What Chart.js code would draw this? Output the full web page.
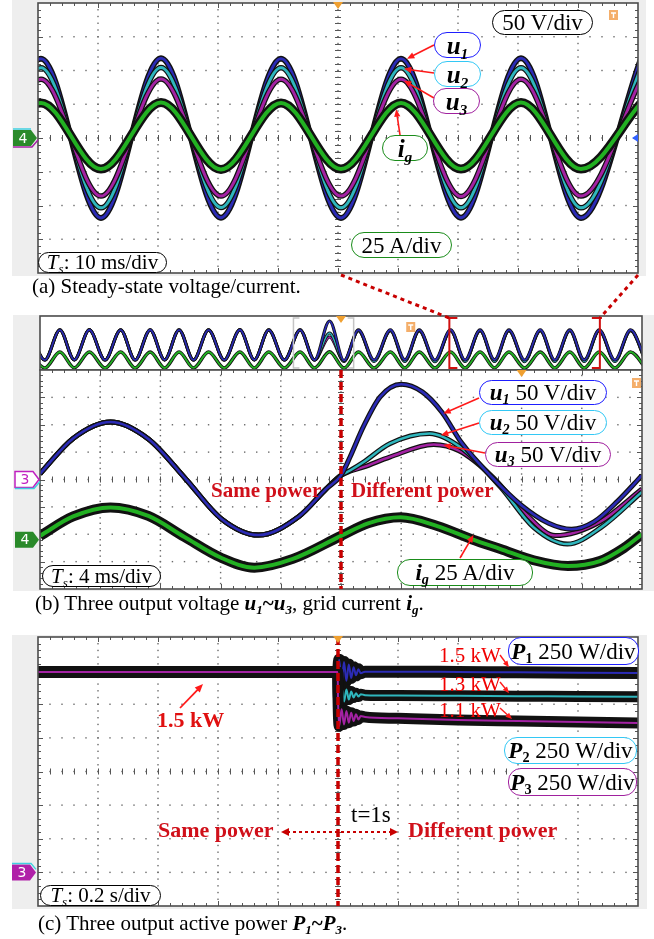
<!DOCTYPE html>
<html>
<head>
<meta charset="utf-8">
<script src="https://cdn.jsdelivr.net/npm/chart.js@4.4.0/dist/chart.umd.min.js"></script>
<style>
body { margin: 0; background: #fff; }
#page { position: relative; width: 654px; height: 939px; overflow: hidden; font-family: "Liberation Serif", "Times New Roman", serif; }
#page canvas { position: absolute; left: 0; top: 0; }
.lbl { position: absolute; box-sizing: border-box; border: 1.6px solid #000; border-radius: 13px; background: #fff;
       display: flex; align-items: center; justify-content: center; white-space: nowrap; color: #000; line-height: 1; }
.txt { position: absolute; white-space: nowrap; line-height: 1; }
.cap { position: absolute; font-size: 21px; line-height: 21px; white-space: nowrap; }
.v { font-weight: bold; font-style: italic; }
sub { font-size: 0.62em; vertical-align: -0.3em; line-height: 0; font-style: italic; }
.red { color: #d0101a; font-weight: bold; }
</style>
</head>
<body>
<div id="page">
<canvas id="cA" width="654" height="939"></canvas>
<canvas id="cS" width="654" height="939"></canvas>
<canvas id="cB" width="654" height="939"></canvas>
<canvas id="cC" width="654" height="939"></canvas>

<!-- (a) labels -->
<div class="lbl" style="left:492px;top:10px;width:101px;height:25px;font-size:23px;"><span>50 V/div</span></div>
<div class="lbl" style="left:434px;top:32px;width:47px;height:26px;font-size:25px;border-color:#1e1eff;"><span><span class="v">u</span><sub class="v">1</sub></span></div>
<div class="lbl" style="left:434px;top:61px;width:47px;height:26px;font-size:25px;border-color:#33c8f5;"><span><span class="v">u</span><sub class="v">2</sub></span></div>
<div class="lbl" style="left:433px;top:88px;width:47px;height:26px;font-size:25px;border-color:#a0209e;"><span><span class="v">u</span><sub class="v">3</sub></span></div>
<div class="lbl" style="left:382px;top:135px;width:46px;height:26px;font-size:25px;border-color:#1a8c1a;"><span><span class="v">i</span><sub class="v">g</sub></span></div>
<div class="lbl" style="left:351px;top:232px;width:101px;height:26px;font-size:23px;border-color:#1a8c1a;"><span>25 A/div</span></div>
<div class="lbl" style="left:38px;top:252px;width:129px;height:21px;font-size:21px;"><span><i>T</i><sub>s</sub>: 10 ms/div</span></div>
<div class="cap" style="left:32px;top:276px;">(a) Steady-state voltage/current.</div>

<!-- (b) labels -->
<div class="lbl" style="left:479px;top:380px;width:128px;height:25px;font-size:23px;border-color:#1e1eff;"><span><span class="v">u</span><sub class="v">1</sub> 50 V/div</span></div>
<div class="lbl" style="left:479px;top:410px;width:128px;height:25px;font-size:23px;border-color:#33c8f5;"><span><span class="v">u</span><sub class="v">2</sub> 50 V/div</span></div>
<div class="lbl" style="left:485px;top:442px;width:126px;height:25px;font-size:23px;border-color:#a0209e;"><span><span class="v">u</span><sub class="v">3</sub> 50 V/div</span></div>
<div class="lbl" style="left:397px;top:559px;width:136px;height:27px;font-size:23px;border-color:#1a8c1a;"><span><span class="v">i</span><sub class="v">g</sub> 25 A/div</span></div>
<div class="lbl" style="left:42px;top:565px;width:119px;height:22px;font-size:21px;"><span><i>T</i><sub>s</sub>: 4 ms/div</span></div>
<div class="txt red" style="left:211px;top:480px;font-size:21px;">Same power</div>
<div class="txt red" style="left:351px;top:480px;font-size:21px;">Different power</div>
<div class="cap" style="left:35px;top:593px;">(b) Three output voltage <b><i>u</i><sub>1</sub>~<i>u</i><sub>3</sub></b>, grid current <b><i>i</i><sub>g</sub></b>.</div>

<!-- (c) labels -->
<div class="lbl" style="left:508px;top:637px;width:131px;height:28px;font-size:23px;border-color:#1e1eff;"><span><span class="v">P</span><sub style="font-weight:bold;font-style:normal">1</sub> 250 W/div</span></div>
<div class="lbl" style="left:504px;top:737px;width:133px;height:27px;font-size:23px;border-color:#33c8f5;"><span><span class="v">P</span><sub style="font-weight:bold;font-style:normal">2</sub> 250 W/div</span></div>
<div class="lbl" style="left:508px;top:768px;width:129px;height:28px;font-size:23px;border-color:#a0209e;"><span><span class="v">P</span><sub style="font-weight:bold;font-style:normal">3</sub> 250 W/div</span></div>
<div class="txt" style="left:439px;top:645px;font-size:21px;color:#f00000;">1.5 kW</div>
<div class="txt" style="left:439px;top:674px;font-size:21px;color:#f00000;">1.3 kW</div>
<div class="txt" style="left:439px;top:700px;font-size:21px;color:#f00000;">1.1 kW</div>
<div class="txt red" style="left:157px;top:709px;font-size:22px;color:#e01010;">1.5 kW</div>
<div class="txt" style="left:351px;top:803px;font-size:23px;">t=1s</div>
<div class="txt red" style="left:158px;top:819px;font-size:22px;">Same power</div>
<div class="txt red" style="left:408px;top:819px;font-size:22px;">Different power</div>
<div class="lbl" style="left:40px;top:885px;width:121px;height:21px;font-size:21px;"><span><i>T</i><sub>s</sub>: 0.2 s/div</span></div>
<div class="cap" style="left:38px;top:913px;">(c) Three output active power <b><i>P</i><sub>1</sub>~<i>P</i><sub>3</sub></b>.</div>
</div>

<script>
// ---------- DATA (values in scope divisions read off the screens) ----------
// (a) steady state, 10 ms/div: times of the peaks / troughs
const tA  = [-0.95, 0.05, 1.05, 2.05, 3.05, 4.05, 5.05, 6.05, 7.05, 8.05, 9.05, 10.05];
const u1A = [-2.37, 2.35, -2.37, 2.36, -2.36, 2.35, -2.37, 2.35, -2.36, 2.36, -2.37, 2.35];
const u2A = [-2.07, 2.08, -2.07, 2.09, -2.06, 2.08, -2.07, 2.08, -2.07, 2.08, -2.07, 2.08];
const u3A = [-1.72, 1.74, -1.72, 1.75, -1.72, 1.74, -1.72, 1.74, -1.73, 1.74, -1.72, 1.74];
const igA = [-0.92, 1.04, -0.92, 1.05, -0.93, 1.04, -0.92, 1.04, -0.92, 1.05, -0.92, 1.04];

// (b) overview strip, 40 ms/div
const tS  = [-0.17, 0.08, 0.33, 0.57, 0.82, 1.08, 1.34, 1.58, 1.83, 2.07, 2.31, 2.55, 2.80, 3.06, 3.32, 3.56, 3.80, 4.06, 4.32, 4.56, 4.81,
             5.05, 5.29, 5.55, 5.82, 6.06, 6.30, 6.56, 6.82, 7.06, 7.31, 7.55, 7.79, 8.05, 8.31, 8.55, 8.80, 9.04, 9.29, 9.55, 9.81, 10.06];
const u1S = [1.93, -2.52, 1.93, -2.5, 1.95, -2.52, 1.93, -2.52, 1.94, -2.5, 1.93, -2.52, 1.93, -2.52, 1.95, -2.5, 1.93, -2.52, 1.93, -2.52, 3.26,
             -2.6, 1.93, -2.52, 1.95, -2.5, 1.93, -2.52, 1.94, -2.52, 1.93, -2.5, 1.93, -2.52, 1.95, -2.52, 1.93, -2.5, 1.93, -2.52, 1.94, -2.52];
const u2S = [1.93, -2.52, 1.93, -2.5, 1.95, -2.52, 1.93, -2.52, 1.94, -2.5, 1.93, -2.52, 1.93, -2.52, 1.95, -2.5, 1.93, -2.52, 1.93, -2.52, 1.48,
             -2.75, 1.85, -2.75, 1.86, -2.74, 1.85, -2.76, 1.85, -2.75, 1.84, -2.75, 1.85, -2.76, 1.86, -2.75, 1.85, -2.74, 1.85, -2.75, 1.85, -2.75];
const u3S = [1.93, -2.52, 1.93, -2.5, 1.95, -2.52, 1.93, -2.52, 1.94, -2.5, 1.93, -2.52, 1.93, -2.52, 1.95, -2.5, 1.93, -2.52, 1.93, -2.52, 0.9,
             -2.65, 1.8, -2.65, 1.8, -2.64, 1.79, -2.65, 1.8, -2.66, 1.8, -2.65, 1.8, -2.65, 1.81, -2.65, 1.8, -2.64, 1.8, -2.65, 1.8, -2.65];
const igS = [-1.33, -3.7, -1.33, -3.68, -1.32, -3.7, -1.33, -3.7, -1.34, -3.7, -1.33, -3.69, -1.33, -3.7, -1.32, -3.7, -1.33, -3.7, -1.33, -3.7, -1.3,
             -3.72, -1.33, -3.7, -1.33, -3.7, -1.32, -3.7, -1.33, -3.7, -1.33, -3.69, -1.33, -3.7, -1.34, -3.7, -1.33, -3.7, -1.33, -3.7, -1.33, -3.7];

// (b) zoomed view, 4 ms/div; the step is at div 5
const tPreB = [0, 0.55, 1.17, 1.8, 2.42, 3.02, 3.63, 4.3, 4.75, 5.0];
const uPreB = [0.21, 1.5, 2.1, 1.48, 0.02, -1.45, -2.03, -1.35, -0.35, 0.15];
const tU1B  = [5.15, 5.37, 5.65, 6.0, 6.35, 6.68, 7.0, 7.5, 8.0, 8.45, 8.83, 9.2, 9.6, 10.0];
const u1B   = [0.82, 1.92, 3.02, 3.48, 3.2, 2.45, 1.35, 0.1, -0.95, -1.6, -1.82, -1.55, -0.78, 0.15];
const tU2B  = [5.15, 5.37, 5.81, 6.47, 7.0, 7.65, 8.2, 8.76, 9.32, 10.0];
const u2B   = [0.33, 0.63, 1.31, 1.68, 1.15, -0.28, -1.75, -2.36, -1.75, -0.45];
const tU3B  = [5.15, 5.37, 5.81, 6.54, 6.96, 7.52, 8.07, 8.56, 9.3, 10.0];
const u3B   = [0.3, 0.45, 0.82, 1.28, 1.05, 0.09, -1.26, -2.05, -1.55, -0.35];
const tIgB  = [0, 0.55, 1.17, 1.8, 2.4, 3.0, 3.56, 4.2, 5.0, 5.45, 5.99, 6.6, 7.17, 7.65, 8.2, 8.77, 9.3, 9.7, 10.0];
const igB   = [-2.06, -1.35, -1.02, -1.33, -2.1, -2.85, -3.22, -2.9, -2.06, -1.6, -1.38, -1.7, -2.18, -2.54, -2.95, -3.16, -2.98, -2.5, -2.0];

// (c) active power, seconds / div (250 W/div, zero at -3 div)
const tC  = [0, 0.999, 1.0, 1.004, 1.012, 1.02, 1.028, 1.036, 1.044, 1.052, 1.06, 1.068, 1.076, 1.09, 1.2, 1.4, 1.6, 1.8, 2.0];
const p1C = [2.96, 2.96, 2.96, 3.32, 2.62, 3.26, 2.7, 3.18, 2.78, 3.1, 2.86, 3.04, 2.92, 2.97, 2.97, 2.96, 2.95, 2.94, 2.93];
const p2C = [2.96, 2.96, 2.5, 2.05, 2.5, 2.08, 2.44, 2.14, 2.38, 2.2, 2.33, 2.23, 2.3, 2.27, 2.26, 2.25, 2.24, 2.23, 2.22];
const p3C = [2.96, 2.96, 2.2, 1.35, 1.85, 1.4, 1.8, 1.45, 1.75, 1.5, 1.7, 1.55, 1.65, 1.62, 1.58, 1.53, 1.5, 1.47, 1.44];

const BLUE = '#2b2bb5', CYAN = '#2fb6bd', MAG = '#a322a3', GREEN = '#22b022', RED = '#c80000';

function pts(t, v) { return t.map((x, i) => ({ x: x, y: v[i] })); }

// black noisy band under each coloured trace
function trace(t, v, color, core, halo) {
  return [
    { data: pts(t, v), borderColor: '#111', borderWidth: halo },
    { data: pts(t, v), borderColor: color, borderWidth: core }
  ];
}

// first item is painted first (bottom)
function stack(list) {
  const ds = [].concat(...list);
  ds.forEach((d, i) => {
    d.order = ds.length - i;
    d.pointRadius = 0;
    d.fill = false;
    d.cubicInterpolationMode = 'monotone';
    d.borderJoinStyle = 'round';
  });
  return ds;
}

function opts(pad, xr, yr) {
  return {
    responsive: false, animation: false, events: [],
    layout: { padding: pad },
    plugins: { legend: { display: false }, tooltip: { enabled: false } },
    scales: {
      x: { type: 'linear', min: xr[0], max: xr[1], display: false },
      y: { type: 'linear', min: yr[0], max: yr[1], display: false }
    }
  };
}

// ---------- drawing helpers ----------
function drawGrid(chart, nx, ny) {
  const ctx = chart.ctx, a = chart.chartArea, xs = chart.scales.x, ys = chart.scales.y;
  const dx = (xs.max - xs.min) / nx, dy = (ys.max - ys.min) / ny;
  const X = v => xs.getPixelForValue(xs.min + v * dx);
  const Y = v => ys.getPixelForValue(ys.min + v * dy);
  ctx.save();
  ctx.fillStyle = '#6a6a6a';
  for (let i = 1; i < nx; i++) for (let k = 1; k < ny * 5; k++) ctx.fillRect(X(i) - 0.7, Y(k / 5) - 0.7, 1.4, 1.4);
  for (let j = 1; j < ny; j++) for (let k = 1; k < nx * 5; k++) ctx.fillRect(X(k / 5) - 0.7, Y(j) - 0.7, 1.4, 1.4);
  ctx.strokeStyle = '#555'; ctx.lineWidth = 1;
  const cx = X(nx / 2), cy = Y(ny / 2);
  ctx.beginPath();
  for (let k = 1; k < nx * 5; k++) {
    const x = Math.round(X(k / 5)) + 0.5, L = k % 5 ? 3 : 5;
    ctx.moveTo(x, cy - 3); ctx.lineTo(x, cy + 3);
    ctx.moveTo(x, a.top); ctx.lineTo(x, a.top + L);
    ctx.moveTo(x, a.bottom); ctx.lineTo(x, a.bottom - L);
  }
  for (let k = 1; k < ny * 5; k++) {
    const y = Math.round(Y(k / 5)) + 0.5, L = k % 5 ? 3 : 5;
    ctx.moveTo(cx - 3, y); ctx.lineTo(cx + 3, y);
    ctx.moveTo(a.left, y); ctx.lineTo(a.left + L, y);
    ctx.moveTo(a.right, y); ctx.lineTo(a.right - L, y);
  }
  ctx.stroke();
  ctx.restore();
}

function arrow(ctx, x1, y1, x2, y2, color, lw, hl) {
  const g = Math.atan2(y2 - y1, x2 - x1);
  ctx.save();
  ctx.strokeStyle = color; ctx.fillStyle = color; ctx.lineWidth = lw;
  ctx.beginPath(); ctx.moveTo(x1, y1);
  ctx.lineTo(x2 - hl * 0.8 * Math.cos(g), y2 - hl * 0.8 * Math.sin(g)); ctx.stroke();
  ctx.beginPath(); ctx.moveTo(x2, y2);
  ctx.lineTo(x2 - hl * Math.cos(g - 0.4), y2 - hl * Math.sin(g - 0.4));
  ctx.lineTo(x2 - hl * Math.cos(g + 0.4), y2 - hl * Math.sin(g + 0.4));
  ctx.closePath(); ctx.fill();
  ctx.restore();
}

function tag(ctx, tip, y, fill, stroke, txt, txtColor) {
  ctx.save();
  ctx.beginPath();
  ctx.moveTo(tip - 24, y - 8); ctx.lineTo(tip - 6, y - 8); ctx.lineTo(tip, y);
  ctx.lineTo(tip - 6, y + 8); ctx.lineTo(tip - 24, y + 8); ctx.closePath();
  ctx.fillStyle = fill; ctx.fill();
  if (stroke) { ctx.strokeStyle = stroke; ctx.lineWidth = 1.5; ctx.stroke(); }
  ctx.fillStyle = txtColor; ctx.font = '14px "DejaVu Sans"';
  ctx.textAlign = 'center'; ctx.textBaseline = 'middle';
  ctx.fillText(txt, tip - 14, y + 1);
  ctx.restore();
}

function trig(ctx, x, y) {
  ctx.save(); ctx.fillStyle = '#f0a030';
  ctx.beginPath(); ctx.moveTo(x - 5, y); ctx.lineTo(x + 5, y); ctx.lineTo(x, y + 7); ctx.closePath(); ctx.fill();
  ctx.restore();
}

function tMark(ctx, x, y) {
  ctx.save();
  ctx.fillStyle = '#f4ae6a'; ctx.fillRect(x, y, 9, 10);
  ctx.strokeStyle = '#fff'; ctx.lineWidth = 1.4;
  ctx.beginPath(); ctx.moveTo(x + 2, y + 3); ctx.lineTo(x + 7, y + 3);
  ctx.moveTo(x + 4.5, y + 3); ctx.lineTo(x + 4.5, y + 8); ctx.stroke();
  ctx.restore();
}

function dashV(ctx, x, y1, y2) {
  ctx.save(); ctx.strokeStyle = RED; ctx.lineWidth = 3.5; ctx.setLineDash([8, 4]);
  ctx.beginPath(); ctx.moveTo(x, y1); ctx.lineTo(x, y2); ctx.stroke(); ctx.restore();
}

// plugin factory: gray bezel, white screen, grid, frame, extras
function scope(bg, grid, extra) {
  return {
    id: 'scope',
    beforeDraw(chart) {
      const ctx = chart.ctx, a = chart.chartArea;
      ctx.save();
      if (bg) { ctx.fillStyle = '#eeeeee'; ctx.fillRect(bg[0], bg[1], bg[2] - bg[0], bg[3] - bg[1]); }
      ctx.fillStyle = '#fff'; ctx.fillRect(a.left, a.top, a.width, a.height);
      ctx.restore();
    },
    beforeDatasetsDraw(chart) { if (grid) drawGrid(chart, 10, 8); },
    afterDraw(chart) {
      const ctx = chart.ctx, a = chart.chartArea;
      ctx.save(); ctx.strokeStyle = '#4d4d4d'; ctx.lineWidth = 1.6;
      ctx.strokeRect(a.left, a.top, a.width, a.height); ctx.restore();
      if (extra) extra(chart, ctx, chart.scales.x, chart.scales.y, a);
    }
  };
}

// ---------- (a) ----------
const chartA = new Chart(document.getElementById('cA'), {
  type: 'line',
  data: { datasets: stack([
    trace(tA, u1A, BLUE, 3, 6),
    trace(tA, u2A, CYAN, 3, 5.5),
    trace(tA, u3A, MAG, 3, 5.5),
    trace(tA, igA, GREEN, 4, 9)
  ]) },
  options: opts({ left: 38, top: 3, right: 16, bottom: 666 }, [0, 10], [-4, 4]),
  plugins: [scope([12, 0, 646, 276], true, (c, ctx, xs, ys, a) => {
    const y0 = ys.getPixelForValue(0);
    tag(ctx, a.left - 1, y0, '#2a8a2a', null, '4', '#fff');
    ctx.save();
    ctx.strokeStyle = '#40d0e0'; ctx.lineWidth = 1.5;
    ctx.beginPath(); ctx.moveTo(a.left - 25, y0 - 9); ctx.lineTo(a.left - 7, y0 - 9); ctx.stroke();
    ctx.strokeStyle = MAG;
    ctx.beginPath(); ctx.moveTo(a.left - 25, y0 + 9); ctx.lineTo(a.left - 6, y0 + 9); ctx.lineTo(a.left, y0 + 2); ctx.stroke();
    ctx.fillStyle = '#3060ff';
    ctx.beginPath(); ctx.moveTo(a.right - 6, y0); ctx.lineTo(a.right, y0 - 4); ctx.lineTo(a.right, y0 + 4); ctx.closePath(); ctx.fill();
    ctx.restore();
    trig(ctx, xs.getPixelForValue(5), a.top - 1);
    tMark(ctx, 609, 10);
    arrow(ctx, 434, 45, xs.getPixelForValue(6.15), ys.getPixelForValue(2.35), '#ff1a1a', 1.6, 8);
    arrow(ctx, 434, 73, xs.getPixelForValue(6.1), ys.getPixelForValue(2.05), '#ff1a1a', 1.6, 8);
    arrow(ctx, 434, 98, xs.getPixelForValue(6.1), ys.getPixelForValue(1.7), '#ff1a1a', 1.6, 8);
    arrow(ctx, 400, 135, xs.getPixelForValue(5.97), ys.getPixelForValue(0.85), '#ff1a1a', 1.6, 8);
  })]
});

// ---------- (b) overview strip ----------
new Chart(document.getElementById('cS'), {
  type: 'line',
  data: { datasets: stack([
    trace(tS, u3S, MAG, 1.5, 3),
    trace(tS, u2S, CYAN, 1.5, 3),
    trace(tS, u1S, BLUE, 1.6, 3.2),
    trace(tS, igS, GREEN, 1.8, 3.5)
  ]) },
  options: opts({ left: 40, top: 316, right: 12, bottom: 569 }, [0, 10], [-4, 4]),
  plugins: [scope([13, 315, 654, 591], false, (c, ctx, xs, ys, a) => {
    const g1 = xs.getPixelForValue(4.21), g2 = xs.getPixelForValue(5.21);
    const r1 = xs.getPixelForValue(6.8), r2 = xs.getPixelForValue(9.3);
    const t = a.top + 2, b = a.bottom - 2;
    ctx.save();
    ctx.strokeStyle = '#c4c4c4'; ctx.lineWidth = 1.5;
    ctx.beginPath();
    ctx.moveTo(g1 + 6, t); ctx.lineTo(g1, t); ctx.lineTo(g1, b); ctx.lineTo(g1 + 6, b);
    ctx.moveTo(g2 - 6, t); ctx.lineTo(g2, t); ctx.lineTo(g2, b); ctx.lineTo(g2 - 6, b);
    ctx.stroke();
    ctx.strokeStyle = '#d01010'; ctx.lineWidth = 2;
    ctx.beginPath();
    ctx.moveTo(r1 + 8, t); ctx.lineTo(r1 - 2, t); ctx.moveTo(r1, t); ctx.lineTo(r1, b); ctx.moveTo(r1 - 1, b); ctx.lineTo(r1 + 8, b);
    ctx.moveTo(r2 - 8, t); ctx.lineTo(r2 + 2, t); ctx.moveTo(r2, t); ctx.lineTo(r2, b); ctx.moveTo(r2 + 1, b); ctx.lineTo(r2 - 8, b);
    ctx.stroke();
    // dotted connectors up to panel (a)
    const A = chartA.chartArea, ax = chartA.scales.x;
    ctx.strokeStyle = RED; ctx.lineWidth = 3; ctx.setLineDash([4, 4]);
    ctx.beginPath();
    ctx.moveTo(ax.getPixelForValue(5.05), A.bottom + 2); ctx.lineTo(r1, t);
    ctx.moveTo(A.right, A.bottom + 2); ctx.lineTo(r2, t);
    ctx.stroke();
    ctx.restore();
    trig(ctx, xs.getPixelForValue(5), a.top);
    tMark(ctx, xs.getPixelForValue(6.15) - 4, a.top + 6);
  })]
});

// ---------- (b) zoomed view ----------
new Chart(document.getElementById('cB'), {
  type: 'line',
  data: { datasets: stack([
    trace(tPreB.concat(tU3B), uPreB.concat(u3B), MAG, 2.5, 5),
    trace(tPreB.concat(tU2B), uPreB.concat(u2B), CYAN, 2.5, 5),
    trace(tPreB.concat(tU1B), uPreB.concat(u1B), BLUE, 2.6, 5),
    trace(tIgB, igB, GREEN, 4, 10)
  ]) },
  options: opts({ left: 40, top: 370, right: 12, bottom: 350 }, [0, 10], [-4, 4]),
  plugins: [scope(null, true, (c, ctx, xs, ys, a) => {
    dashV(ctx, xs.getPixelForValue(5), a.top, a.bottom);
    const y0 = ys.getPixelForValue(0), y4 = ys.getPixelForValue(-2.2);
    tag(ctx, a.left - 1, y0, '#fff', '#c020c0', '3', '#c020c0');
    ctx.save(); ctx.strokeStyle = '#40d0e0'; ctx.lineWidth = 1.5;
    ctx.beginPath(); ctx.moveTo(a.left - 25, y0 + 9); ctx.lineTo(a.left - 6, y0 + 9); ctx.lineTo(a.left, y0 + 2); ctx.stroke();
    ctx.restore();
    tag(ctx, a.left - 1, y4, '#2a8a2a', null, '4', '#fff');
    trig(ctx, xs.getPixelForValue(8), a.top);
    tMark(ctx, 632, 378);
    arrow(ctx, 479, 398, xs.getPixelForValue(6.7), ys.getPixelForValue(2.41), '#ff1a1a', 1.6, 8);
    arrow(ctx, 479, 423, xs.getPixelForValue(6.66), ys.getPixelForValue(1.62), '#ff1a1a', 1.6, 8);
    arrow(ctx, 485, 453, xs.getPixelForValue(6.7), ys.getPixelForValue(1.26), '#ff1a1a', 1.6, 8);
    arrow(ctx, 460, 558, xs.getPixelForValue(7.2), ys.getPixelForValue(-2.03), '#ff1a1a', 1.6, 8);
  })]
});

// ---------- (c) ----------
new Chart(document.getElementById('cC'), {
  type: 'line',
  data: { datasets: stack([
    trace(tC, p1C, BLUE, 2, 12),
    trace(tC, p2C, CYAN, 2, 11),
    trace(tC, p3C, MAG, 2, 11)
  ]) },
  options: opts({ left: 38, top: 637, right: 16, bottom: 33 }, [0, 2], [-4, 4]),
  plugins: [scope([12, 635, 647, 909], true, (c, ctx, xs, ys, a) => {
    const xc = xs.getPixelForValue(1.0);
    dashV(ctx, xc, a.top, a.bottom);
    const y3 = ys.getPixelForValue(-3);
    tag(ctx, a.left - 2, y3, '#b020a8', null, '3', '#fff');
    ctx.save(); ctx.strokeStyle = '#40d0e0'; ctx.lineWidth = 1.5;
    ctx.beginPath(); ctx.moveTo(a.left - 26, y3 - 9); ctx.lineTo(a.left - 7, y3 - 9); ctx.lineTo(a.left - 2, y3 - 3); ctx.stroke();
    ctx.restore();
    trig(ctx, xc, a.top - 1);
    arrow(ctx, 180, 708, xs.getPixelForValue(0.55), ys.getPixelForValue(2.6), '#ff1a1a', 1.8, 9);
    arrow(ctx, 500, 655, xs.getPixelForValue(1.57), ys.getPixelForValue(3.1), '#ff1a1a', 1.4, 7);
    arrow(ctx, 500, 682, xs.getPixelForValue(1.57), ys.getPixelForValue(2.33), '#ff1a1a', 1.4, 7);
    arrow(ctx, 500, 708, xs.getPixelForValue(1.58), ys.getPixelForValue(1.56), '#ff1a1a', 1.4, 7);
    // "Same power <- -> Different power"
    const yd = ys.getPixelForValue(-1.8), xl = xs.getPixelForValue(0.81), xr = xs.getPixelForValue(1.2);
    ctx.save();
    ctx.strokeStyle = RED; ctx.fillStyle = RED; ctx.lineWidth = 2; ctx.setLineDash([3, 3]);
    ctx.beginPath(); ctx.moveTo(xl + 6, yd); ctx.lineTo(xr - 6, yd); ctx.stroke();
    ctx.setLineDash([]);
    ctx.beginPath(); ctx.moveTo(xl, yd); ctx.lineTo(xl + 8, yd - 4); ctx.lineTo(xl + 8, yd + 4); ctx.closePath(); ctx.fill();
    ctx.beginPath(); ctx.moveTo(xr, yd); ctx.lineTo(xr - 8, yd - 4); ctx.lineTo(xr - 8, yd + 4); ctx.closePath(); ctx.fill();
    ctx.restore();
  })]
});
</script>
</body>
</html>
